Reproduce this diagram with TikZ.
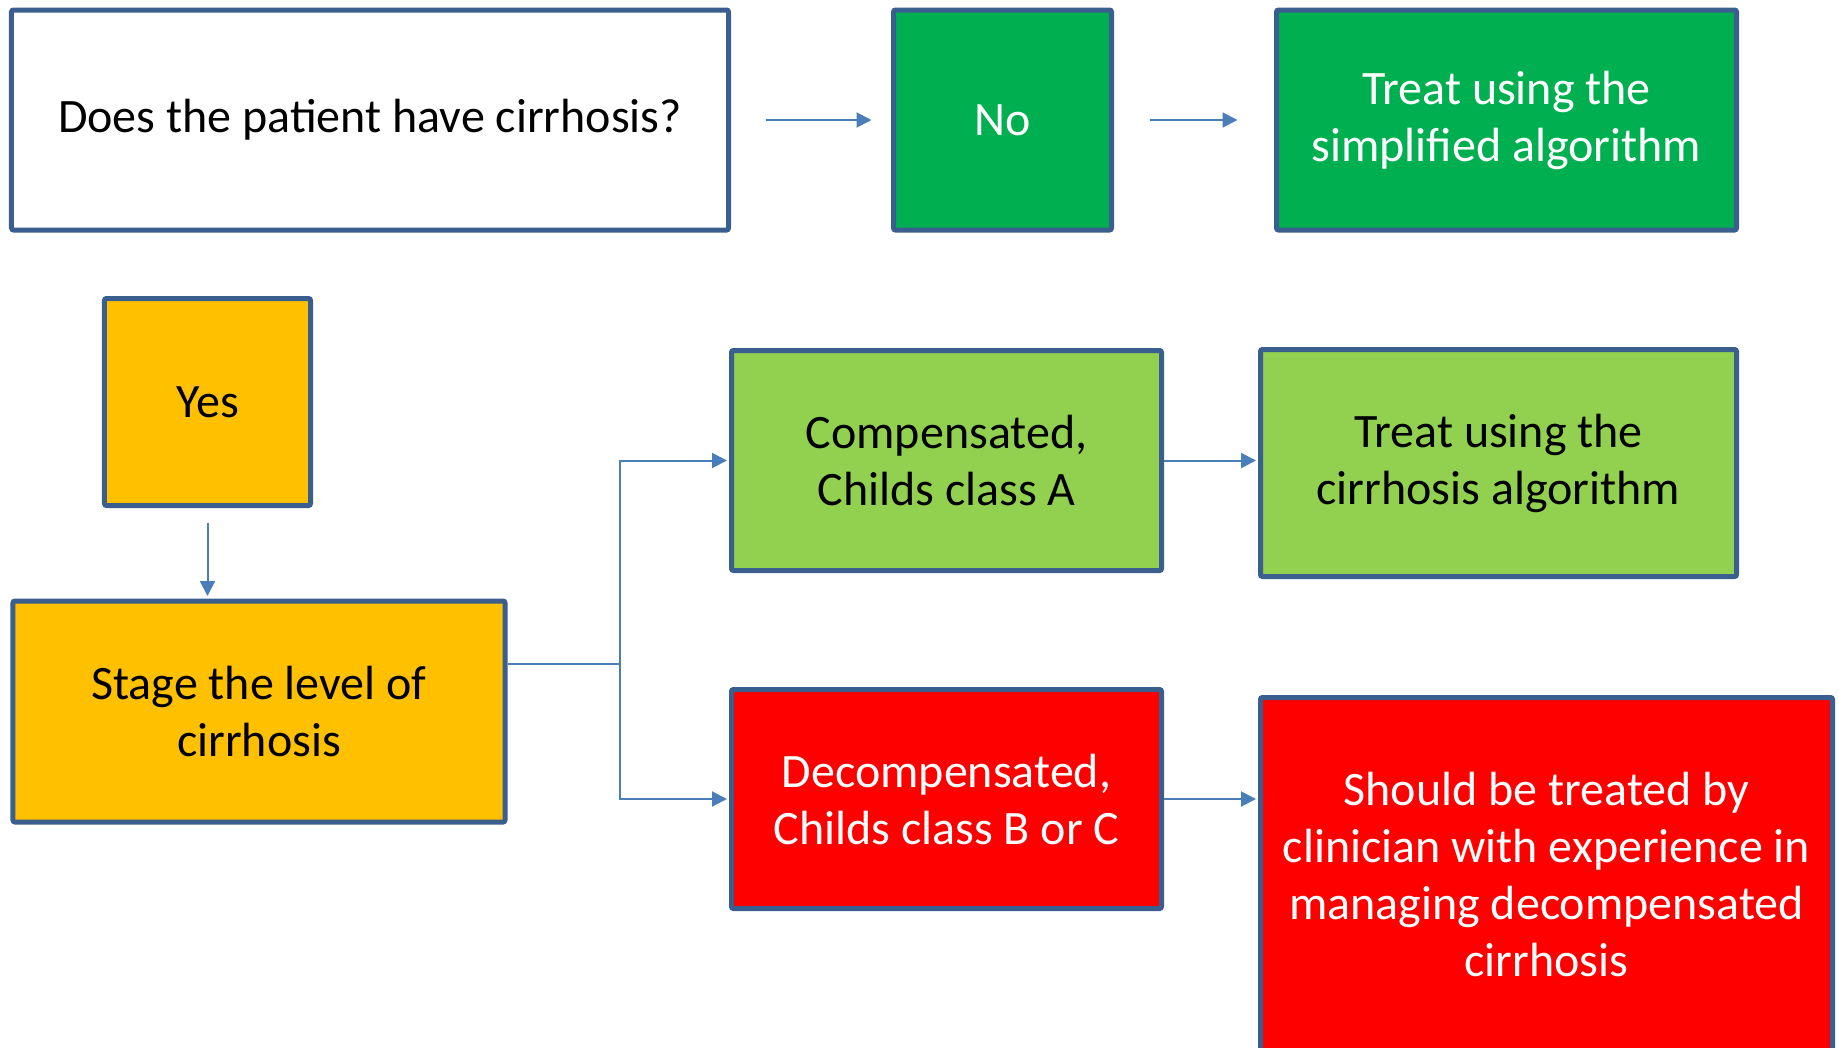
\documentclass[tikz,border=0pt]{standalone}
\usepackage{fontspec}
\setmainfont{Carlito}
\usetikzlibrary{arrows.meta,calc}
\definecolor{bordc}{HTML}{3A5F8F}
\definecolor{arrc}{HTML}{4A7EBB}
\definecolor{dgreen}{HTML}{00B050}
\definecolor{lgreen}{HTML}{92D050}
\definecolor{amber}{HTML}{FFC000}
\definecolor{red0}{HTML}{FF0000}
\newcommand\boxfont{\fontsize{19.2pt}{22.8pt}\selectfont}
\tikzset{
  box/.style={draw=bordc, line width=2pt, rounded corners=0.8pt, inner sep=0pt, align=center, font=\boxfont, text=black},
  conn/.style={draw=arrc, line width=0.8pt, -{Triangle[length=6pt,width=6pt]}},
}
\begin{document}
\begin{tikzpicture}[x=0.4pt,y=-0.4pt]
\useasboundingbox (0,0) rectangle (1839,1047);
\node[box, fill=white, minimum width=286.8pt, minimum height=88pt] (q) at (370,120) {Does the patient have cirrhosis?};
\node[box, fill=dgreen, text=white, minimum width=87.2pt, minimum height=88pt] (no) at (1002.5,120) {No};
\node[box, fill=dgreen, text=white, minimum width=184pt, minimum height=88pt] (simp) at (1506.5,120) {Treat using the\\simplified algorithm};
\node[box, fill=amber, minimum width=82.4pt, minimum height=82.8pt] (yes) at (207.5,402) {Yes};
\node[box, fill=amber, minimum width=196.8pt, minimum height=88.4pt] (stage) at (259,711.5) {Stage the level of\\cirrhosis};
\node[box, fill=lgreen, minimum width=172pt, minimum height=88pt] (comp) at (946.5,460.5) {Compensated,\\Childs class A};
\node[box, fill=lgreen, minimum width=190.4pt, minimum height=90.8pt] (cirr) at (1498.5,463) {Treat using the\\cirrhosis algorithm};
\node[box, fill=red0, text=white, minimum width=172pt, minimum height=87.6pt] (decomp) at (946.5,799) {Decompensated,\\Childs class B or C};
\node[box, fill=red0, text=white, minimum width=228.8pt, minimum height=141.2pt] (should) at (1546.5,874) {Should be treated by\\clinician with experience in\\managing decompensated\\cirrhosis};
\coordinate (j) at (620,664);
\draw[conn, shorten <=13.8pt, shorten >=7.8pt] (q.east) -- (no.west);
\draw[conn, shorten <=14.2pt, shorten >=14.6pt] (no.east) -- (simp.west);
\draw[conn, shorten <=5.8pt, shorten >=1pt] (yes.south) -- (yes.south |- stage.north);
\draw[conn, shorten >=0.8pt] (comp.east) -- (comp.east -| cirr.west);
\draw[conn, shorten >=0.8pt] (decomp.east) -- (decomp.east -| should.west);
\draw[draw=arrc, line width=0.8pt] (stage.east |- j) -- (j);
\draw[conn, shorten >=0.8pt] (j) |- (comp.west);
\draw[conn, shorten >=0.8pt] (j) |- (decomp.west);
\end{tikzpicture}
\end{document}
